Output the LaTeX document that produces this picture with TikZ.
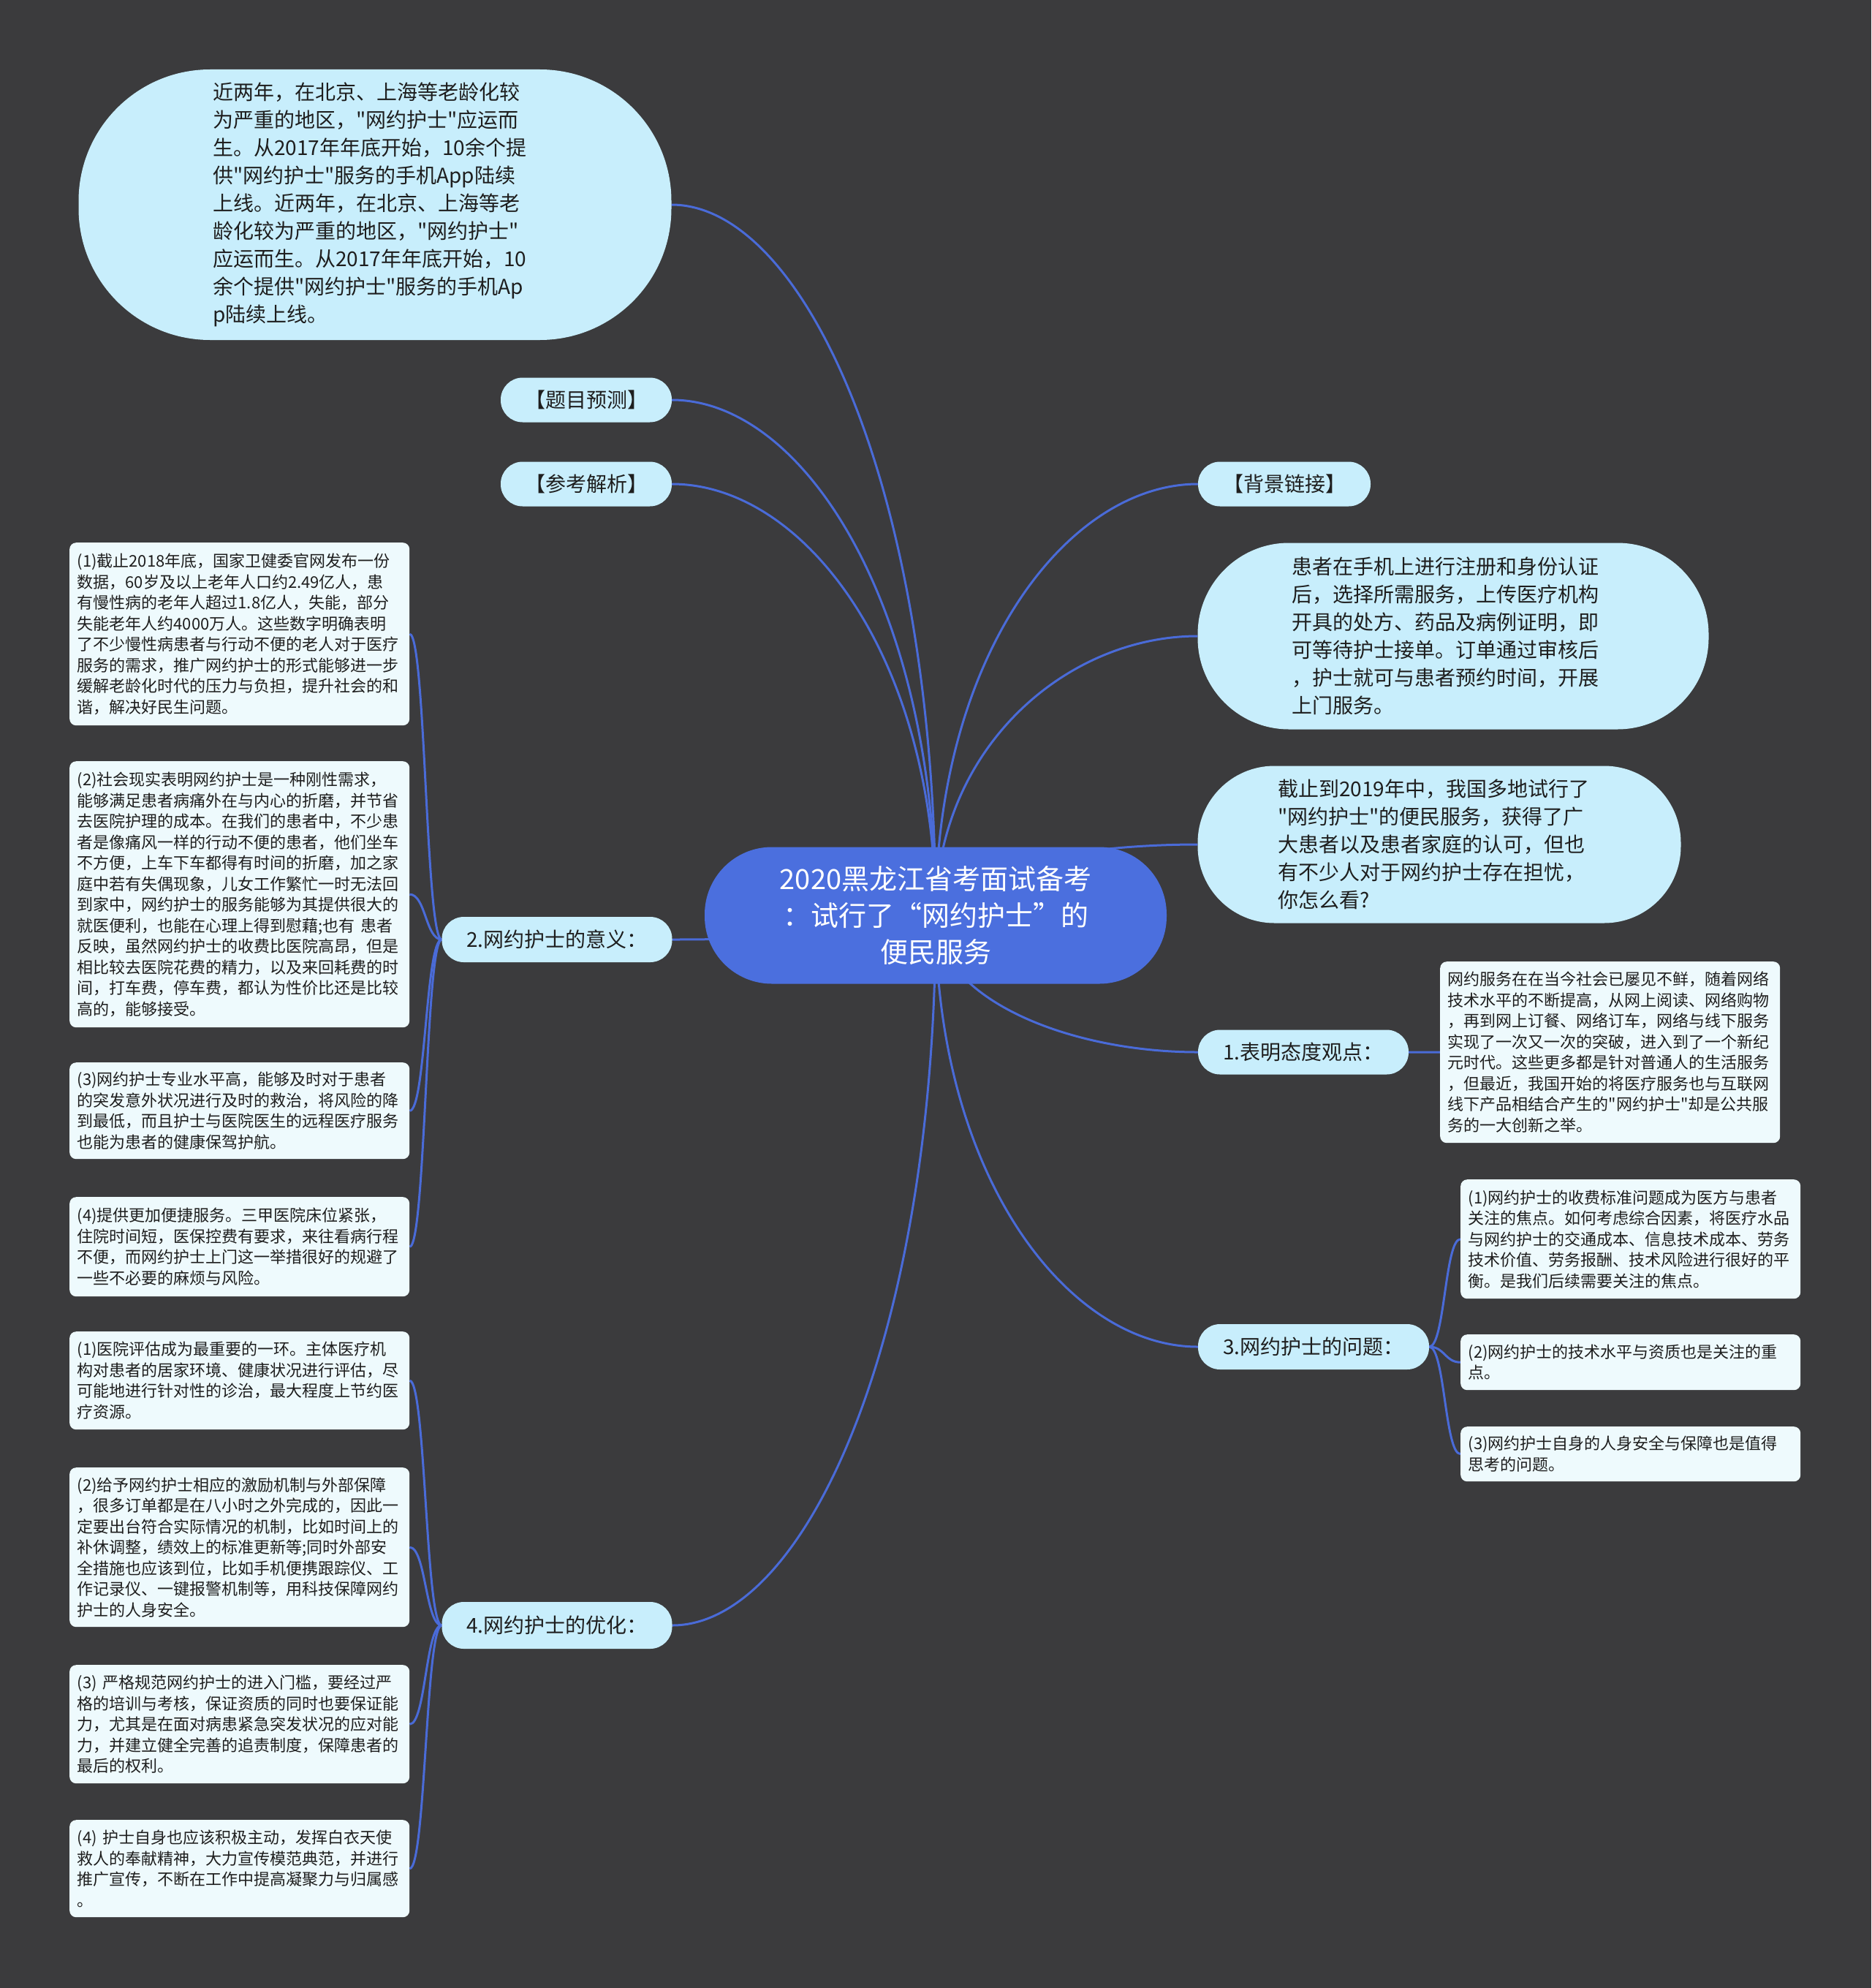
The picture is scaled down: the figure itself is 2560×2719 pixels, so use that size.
\documentclass[tikz,border=0pt]{standalone}
\usepackage{fontspec}
\setmainfont{Noto Sans CJK SC}[Ligatures=TeXOff]
\usetikzlibrary{calc}
\definecolor{bgc}{HTML}{3B3B3D}
\definecolor{rootblue}{HTML}{4B6FDE}
\definecolor{ovalfill}{HTML}{C8EEFC}
\definecolor{leaffill}{HTML}{EEFAFD}
\definecolor{linkblue}{HTML}{4A6BD8}
\definecolor{textc}{HTML}{1E1E1E}
\pgfdeclarelayer{bg}
\pgfsetlayers{bg,main}
\tikzset{
  rootnode/.style={fill=rootblue, text=white, rounded corners=92pt, minimum width=632pt, minimum height=187pt, align=center, font=\fontsize{38}{50}\selectfont, inner sep=0pt},
  ovalnode/.style={fill=ovalfill, text=textc, align=left, font=\fontsize{28}{38}\selectfont, inner sep=0pt},
  pillnode/.style={fill=ovalfill, text=textc, rounded corners=30pt, minimum height=61pt, font=\fontsize{28}{34}\selectfont, inner sep=0pt},
  leafnode/.style={fill=leaffill, text=textc, rounded corners=9pt, align=left, font=\fontsize{22}{28.5}\selectfont, text width=444pt, inner xsep=10.5pt, inner ysep=0pt, anchor=north west},
  link/.style={draw=linkblue, line width=3pt},
  mainconn/.style={to path={.. controls ($(\tikztostart)!0.6!(\tikztostart|-\tikztotarget)$) and ($(\tikztotarget)!0.5!(\tikztotarget-|\tikztostart)$) .. (\tikztotarget)}},
  subconn/.style={to path={.. controls ($(\tikztostart)!0.5!(\tikztostart-|\tikztotarget)$) and ($(\tikztotarget)!0.5!(\tikztotarget-|\tikztostart)$) .. (\tikztotarget)}}
}
\begin{document}
\begin{tikzpicture}[x=1pt,y=-1pt]
\useasboundingbox (0,0) rectangle (2560,2719);
\begin{pgfonlayer}{bg}
\fill[bgc] (0,0) rectangle (2560,2719);
\end{pgfonlayer}

% root
\node[rootnode] (root) at (1280,1252) {2020黑龙江省考面试备考\\：试行了“网约护士”的\\便民服务};

% top-left oval
\node[ovalnode, rounded corners=180pt, minimum width=811pt, minimum height=370pt, text width=444pt] (tl) at (513,280) {近两年，在北京、上海等老龄化较\\为严重的地区，"网约护士"应运而\\生。从2017年年底开始，10余个提\\供"网约护士"服务的手机App陆续\\上线。近两年，在北京、上海等老\\龄化较为严重的地区，"网约护士"\\应运而生。从2017年年底开始，10\\余个提供"网约护士"服务的手机Ap\\p陆续上线。};

% pills
\node[pillnode, minimum width=234pt] (tmyc) at (802,547) {【题目预测】};
\node[pillnode, minimum width=234pt] (ckjx) at (802,662) {【参考解析】};
\node[pillnode, minimum width=236pt] (bjlj) at (1757,662) {【背景链接】};
\node[pillnode, minimum width=315pt, minimum height=62pt] (yiyi) at (762,1285) {2.网约护士的意义：};
\node[pillnode, minimum width=315pt, minimum height=64pt] (youhua) at (762,2223) {4.网约护士的优化：};
\node[pillnode, minimum width=288pt] (taidu) at (1783,1439) {1.表明态度观点：};
\node[pillnode, minimum width=316pt, minimum height=62pt] (wenti) at (1797,1842) {3.网约护士的问题：};

% right ovals
\node[ovalnode, rounded corners=125pt, minimum width=699pt, minimum height=255pt, text width=442pt] (ro1) at (1988,870) {患者在手机上进行注册和身份认证\\后，选择所需服务，上传医疗机构\\开具的处方、药品及病例证明，即\\可等待护士接单。订单通过审核后\\，护士就可与患者预约时间，开展\\上门服务。};
\node[ovalnode, rounded corners=105pt, minimum width=661pt, minimum height=215pt, text width=442pt] (ro2) at (1969,1155) {截止到2019年中，我国多地试行了\\"网约护士"的便民服务，获得了广\\大患者以及患者家庭的认可，但也\\有不少人对于网约护士存在担忧，\\你怎么看?};

% leaves of 2
\node[leafnode, minimum height=250pt] (a1) at (95,742) {(1)截止2018年底，国家卫健委官网发布一份\\数据，60岁及以上老年人口约2.49亿人，患\\有慢性病的老年人超过1.8亿人，失能，部分\\失能老年人约4000万人。这些数字明确表明\\了不少慢性病患者与行动不便的老人对于医疗\\服务的需求，推广网约护士的形式能够进一步\\缓解老龄化时代的压力与负担，提升社会的和\\谐，解决好民生问题。};
\node[leafnode, minimum height=364pt] (a2) at (95,1041) {(2)社会现实表明网约护士是一种刚性需求，\\能够满足患者病痛外在与内心的折磨，并节省\\去医院护理的成本。在我们的患者中，不少患\\者是像痛风一样的行动不便的患者，他们坐车\\不方便，上车下车都得有时间的折磨，加之家\\庭中若有失偶现象，儿女工作繁忙一时无法回\\到家中，网约护士的服务能够为其提供很大的\\就医便利，也能在心理上得到慰藉;也有 患者\\反映，虽然网约护士的收费比医院高昂，但是\\相比较去医院花费的精力，以及来回耗费的时\\间，打车费，停车费，都认为性价比还是比较\\高的，能够接受。};
\node[leafnode, minimum height=132pt] (a3) at (95,1453) {(3)网约护士专业水平高，能够及时对于患者\\的突发意外状况进行及时的救治，将风险的降\\到最低，而且护士与医院医生的远程医疗服务\\也能为患者的健康保驾护航。};
\node[leafnode, minimum height=136pt] (a4) at (95,1637) {(4)提供更加便捷服务。三甲医院床位紧张，\\住院时间短，医保控费有要求，来往看病行程\\不便，而网约护士上门这一举措很好的规避了\\一些不必要的麻烦与风险。};

% leaves of 4
\node[leafnode, minimum height=134pt] (b1) at (95,1821) {(1)医院评估成为最重要的一环。主体医疗机\\构对患者的居家环境、健康状况进行评估，尽\\可能地进行针对性的诊治，最大程度上节约医\\疗资源。};
\node[leafnode, minimum height=218pt] (b2) at (95,2007) {(2)给予网约护士相应的激励机制与外部保障\\，很多订单都是在八小时之外完成的，因此一\\定要出台符合实际情况的机制，比如时间上的\\补休调整，绩效上的标准更新等;同时外部安\\全措施也应该到位，比如手机便携跟踪仪、工\\作记录仪、一键报警机制等，用科技保障网约\\护士的人身安全。};
\node[leafnode, minimum height=162pt] (b3) at (95,2277) {(3) 严格规范网约护士的进入门槛，要经过严\\格的培训与考核，保证资质的同时也要保证能\\力，尤其是在面对病患紧急突发状况的应对能\\力，并建立健全完善的追责制度，保障患者的\\最后的权利。};
\node[leafnode, minimum height=133pt] (b4) at (95,2489) {(4) 护士自身也应该积极主动，发挥白衣天使\\救人的奉献精神，大力宣传模范典范，并进行\\推广宣传，不断在工作中提高凝聚力与归属感\\。};

% leaf of 1
\node[leafnode, minimum height=248pt] (c1) at (1970,1315) {网约服务在在当今社会已屡见不鲜，随着网络\\技术水平的不断提高，从网上阅读、网络购物\\，再到网上订餐、网络订车，网络与线下服务\\实现了一次又一次的突破，进入到了一个新纪\\元时代。这些更多都是针对普通人的生活服务\\，但最近，我国开始的将医疗服务也与互联网\\线下产品相结合产生的"网约护士"却是公共服\\务的一大创新之举。};

% leaves of 3
\node[leafnode, minimum height=163pt] (d1) at (1998,1613) {(1)网约护士的收费标准问题成为医方与患者\\关注的焦点。如何考虑综合因素，将医疗水品\\与网约护士的交通成本、信息技术成本、劳务\\技术价值、劳务报酬、技术风险进行很好的平\\衡。是我们后续需要关注的焦点。};
\node[leafnode, minimum height=76pt] (d2) at (1998,1825) {(2)网约护士的技术水平与资质也是关注的重\\点。};
\node[leafnode, minimum height=75pt] (d3) at (1998,1951) {(3)网约护士自身的人身安全与保障也是值得\\思考的问题。};

% connectors
\begin{pgfonlayer}{bg}
\draw[link] (root.center) to[mainconn] (tl.east);
\draw[link] (root.center) to[mainconn] (tmyc.east);
\draw[link] (root.center) to[mainconn] (ckjx.east);
\draw[link] (root.center) to[mainconn] (yiyi.east);
\draw[link] (root.center) to[mainconn] (youhua.east);
\draw[link] (root.center) to[mainconn] (bjlj.west);
\draw[link] (root.center) to[mainconn] (ro1.west);
\draw[link] (root.center) to[mainconn] (ro2.west);
\draw[link] (root.center) to[mainconn] (taidu.west);
\draw[link] (root.center) to[mainconn] (wenti.west);
\draw[link] (yiyi.west) to[subconn] (a1.east);
\draw[link] (yiyi.west) to[subconn] (a2.east);
\draw[link] (yiyi.west) to[subconn] (a3.east);
\draw[link] (yiyi.west) to[subconn] (a4.east);
\draw[link] (youhua.west) to[subconn] (b1.east);
\draw[link] (youhua.west) to[subconn] (b2.east);
\draw[link] (youhua.west) to[subconn] (b3.east);
\draw[link] (youhua.west) to[subconn] (b4.east);
\draw[link] (taidu.east) to[subconn] (c1.west);
\draw[link] (wenti.east) to[subconn] (d1.west);
\draw[link] (wenti.east) to[subconn] (d2.west);
\draw[link] (wenti.east) to[subconn] (d3.west);
\end{pgfonlayer}
\end{tikzpicture}
\end{document}
